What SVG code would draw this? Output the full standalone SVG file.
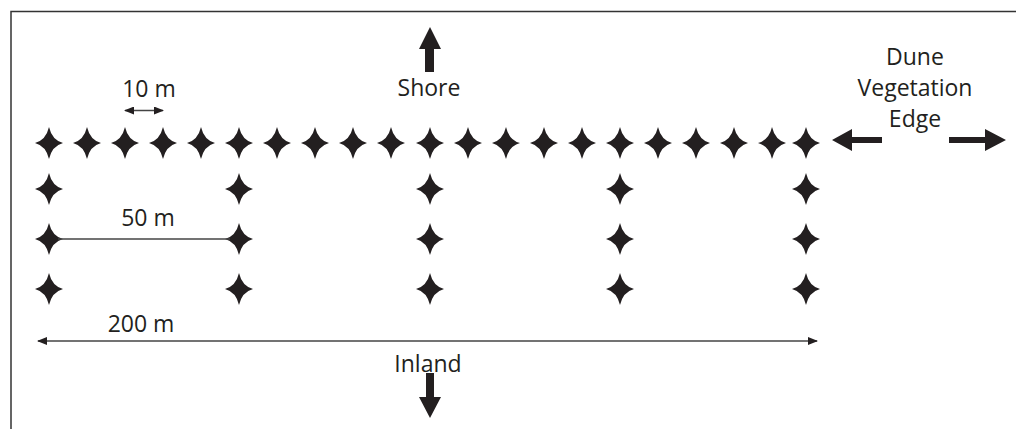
<svg xmlns="http://www.w3.org/2000/svg" width="1016" height="429" viewBox="0 0 1016 429">
<defs>
<style>
.t{font-family:"Open Sans","Noto Sans","Liberation Sans",sans-serif;font-size:23px;fill:#231f20;text-anchor:middle}
.frame{stroke:#333;stroke-width:1.5;fill:none}
.dim{stroke:#444;stroke-width:1.5;fill:none}
.big{fill:#231f20}
</style>
<path id="star" d="M0,-16 Q3,-3 14,0 Q3,3 0,16 Q-3,3 -14,0 Q-3,-3 0,-16Z" fill="#231f20"/>
<marker id="ah" markerWidth="10" markerHeight="8" refX="9" refY="4" orient="auto-start-reverse" markerUnits="userSpaceOnUse">
<path d="M0,0 L10,4 L0,8Z" fill="#231f20"/>
</marker>
</defs>
<rect width="1016" height="429" fill="#fff"/>
<path class="frame" d="M11,429 V11.5 H1016"/>
<g id="stars">
<use href="#star" x="49" y="143"/><use href="#star" x="87" y="143"/><use href="#star" x="125" y="143"/><use href="#star" x="163" y="143"/><use href="#star" x="201" y="143"/><use href="#star" x="239" y="143"/><use href="#star" x="277" y="143"/><use href="#star" x="315" y="143"/><use href="#star" x="353" y="143"/><use href="#star" x="391" y="143"/><use href="#star" x="430" y="143"/><use href="#star" x="468" y="143"/><use href="#star" x="506" y="143"/><use href="#star" x="544" y="143"/><use href="#star" x="582" y="143"/><use href="#star" x="620" y="143"/><use href="#star" x="658" y="143"/><use href="#star" x="696" y="143"/><use href="#star" x="734" y="143"/><use href="#star" x="772" y="143"/><use href="#star" x="806" y="143"/>
<use href="#star" x="49" y="189"/><use href="#star" x="49" y="239"/><use href="#star" x="49" y="289"/>
<use href="#star" x="239" y="189"/><use href="#star" x="239" y="239"/><use href="#star" x="239" y="289"/>
<use href="#star" x="430" y="189"/><use href="#star" x="430" y="239"/><use href="#star" x="430" y="289"/>
<use href="#star" x="620" y="189"/><use href="#star" x="620" y="239"/><use href="#star" x="620" y="289"/>
<use href="#star" x="806" y="189"/><use href="#star" x="806" y="239"/><use href="#star" x="806" y="289"/>
</g>
<g id="connectors">
<line class="dim" x1="125" y1="110.5" x2="163" y2="110.5" marker-start="url(#ah)" marker-end="url(#ah)"/>
<line class="dim" x1="58" y1="239" x2="230" y2="239"/>
<line class="dim" x1="38" y1="341" x2="817" y2="341" marker-start="url(#ah)" marker-end="url(#ah)"/>
</g>
<g id="shore">
<path class="big" d="M425,72 V49 H419 L430,27 L441,49 H434 V72Z"/>
<text class="t" x="429" y="96">Shore</text>
</g>
<g id="inland">
<text class="t" x="428" y="372">Inland</text>
<path class="big" d="M426,373 V397 H419 L430,418 L441,397 H434 V373Z"/>
</g>
<g id="dune">
<text class="t" x="915" y="65">Dune</text>
<text class="t" x="915" y="96">Vegetation</text>
<text class="t" x="915" y="127">Edge</text>
<path class="big" d="M882,137 H852 V129 L832,140 L852,151 V143 H882Z"/>
<path class="big" d="M949,137 H985 V129 L1006,140 L985,151 V143 H949Z"/>
</g>
<g id="labels">
<text class="t" x="149" y="97">10 m</text>
<text class="t" x="148" y="226">50 m</text>
<text class="t" x="141" y="332">200 m</text>
</g>
</svg>
